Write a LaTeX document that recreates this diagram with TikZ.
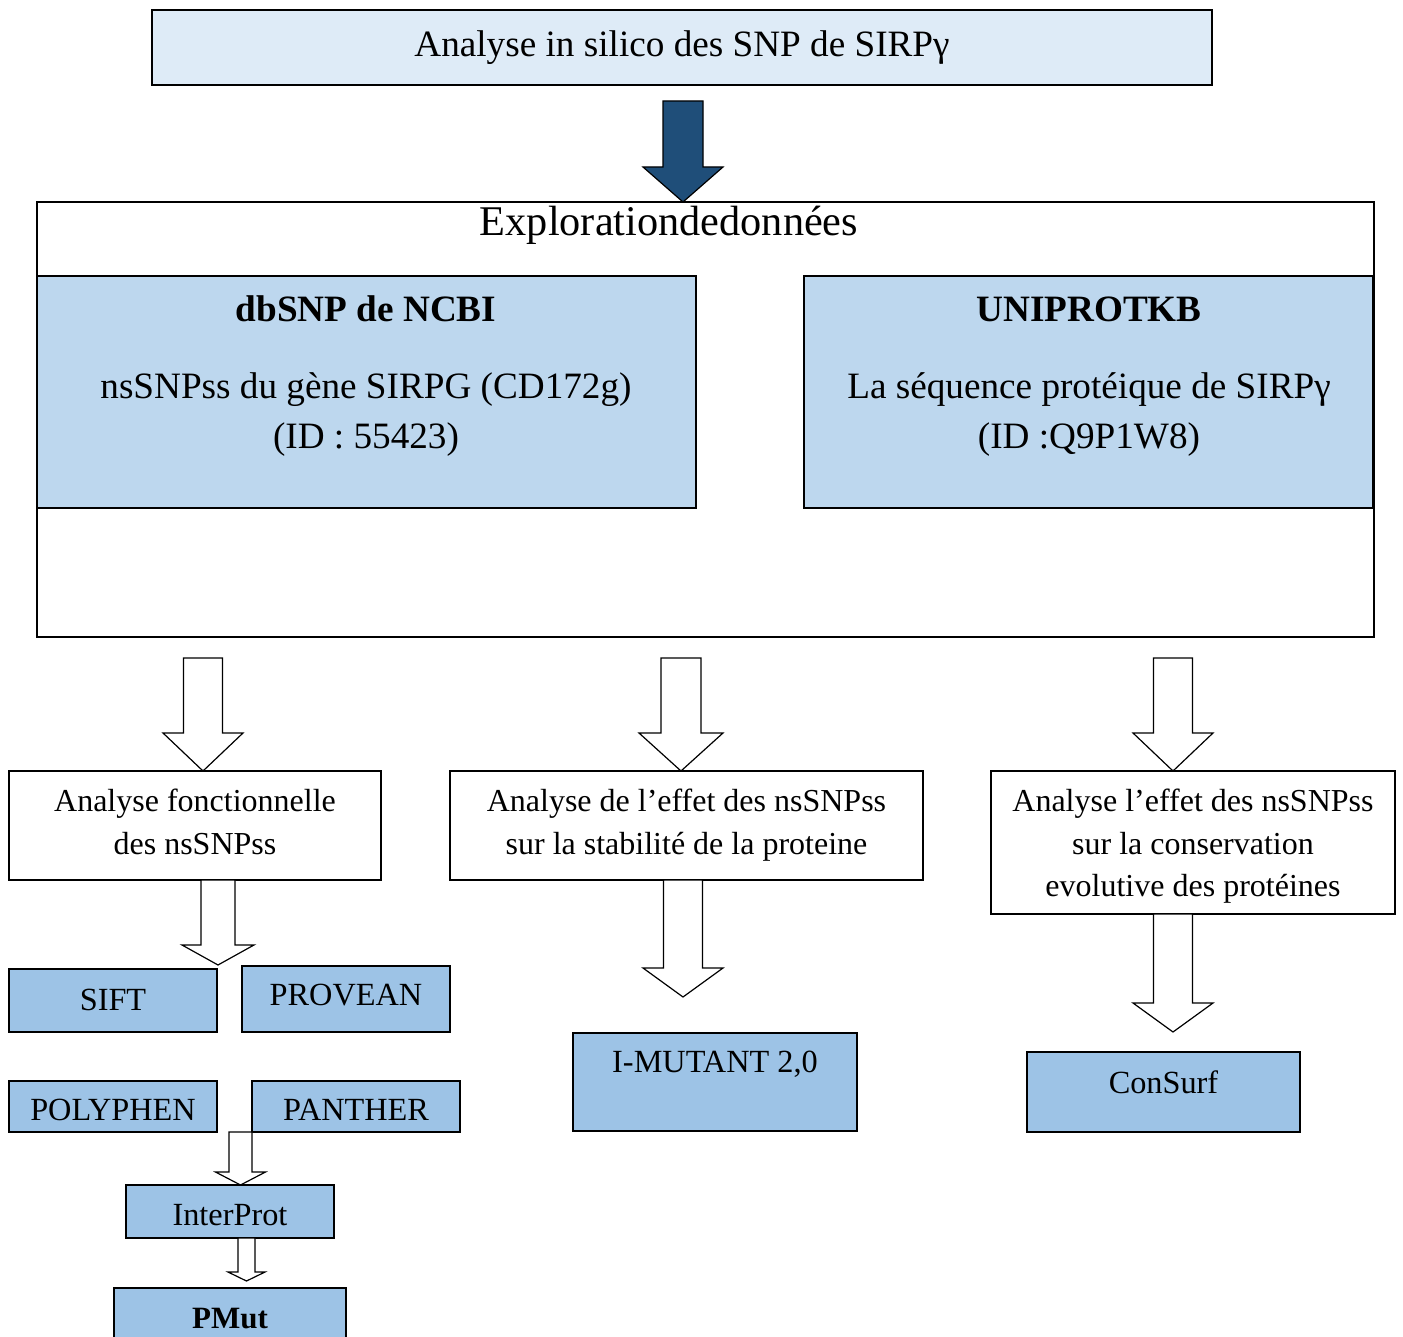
\documentclass[tikz,border=0pt]{standalone}
\usepackage{fontspec}
\setmainfont{Liberation Serif}
\usetikzlibrary{calc}
\definecolor{lightbg}{HTML}{DEEBF7}
\definecolor{midblue}{HTML}{BDD7EE}
\definecolor{toolblue}{HTML}{9DC3E6}
\definecolor{darkblue}{HTML}{1F4E79}
\tikzset{
  frame/.style={draw=black, line width=1.3pt, inner sep=0pt, outer sep=0pt},
  txt/.style={anchor=base, inner sep=0pt, outer sep=0pt},
  hollow/.style={draw=black, fill=white, line width=1.2pt, line join=miter},
  solidarrow/.style={draw=black, fill=darkblue, line width=1.2pt, line join=miter},
  fTitle/.style={font=\fontsize{37.2}{44}\selectfont},
  fExplo/.style={font=\fontsize{42.3}{50}\selectfont},
  fInner/.style={font=\fontsize{37.2}{44}\selectfont},
  fInnerB/.style={font=\fontsize{37.2}{44}\selectfont\bfseries},
  fStep/.style={font=\fontsize{32}{40}\selectfont},
  fTool/.style={font=\fontsize{32.3}{38}\selectfont},
  fToolB/.style={font=\fontsize{31}{38}\selectfont\bfseries},
}
\newcommand\rectnode[6]{\node[frame,#6,minimum width={(#4-#2)*1pt},minimum height={(#5-#3)*1pt}] (#1) at ({(#2+#4)/2},{(#3+#5)/2}) {};}
% #1 style, #2 top point, #3 tip point, #4 shaft half width, #5 head half width, #6 head length
\newcommand\blockarrow[6]{%
  \path[#1] let \p1=(#2), \p2=(#3) in
    (\x1-#4,\y1) -- (\x1+#4,\y1) -- (\x1+#4,\y2+#6) -- (\x1+#5,\y2+#6) -- (\x2,\y2)
    -- (\x1-#5,\y2+#6) -- (\x1-#4,\y2+#6) -- cycle;}
\begin{document}
\begin{tikzpicture}[x=1pt,y=-1pt]
\useasboundingbox[fill=white] (0,0) rectangle (1403,1337);

% top
\rectnode{top}{152}{10}{1212}{85}{fill=lightbg}
\node[txt,fTitle] (ttop) at (682,57) {Analyse in silico des SNP de SIRPγ};

% exploration
\rectnode{explo}{37}{202}{1374}{637}{fill=white}
\node[txt,fExplo] (texplo) at (669,236) {Explorationdedonnées};
\rectnode{dbsnp}{37}{276}{696}{508}{fill=midblue}
\node[txt,fInnerB] (tdb1) at (366,322) {dbSNP de NCBI};
\node[txt,fInner] (tdb2) at (366,399) {nsSNPss du gène SIRPG (CD172g)};
\node[txt,fInner] (tdb3) at (366,448) {(ID : 55423)};
\rectnode{uni}{804}{276}{1373}{508}{fill=midblue}
\node[txt,fInnerB] (tun1) at (1089,322) {UNIPROTKB};
\node[txt,fInner] (tun2) at (1089,399) {La séquence protéique de SIRPγ};
\node[txt,fInner] (tun3) at (1089,448) {(ID :Q9P1W8)};

% analysis steps
\rectnode{a1}{9}{771}{381}{880}{fill=white}
\node[txt,fStep] (ta11) at (195,811) {Analyse fonctionnelle};
\node[txt,fStep] (ta12) at (195,854) {des nsSNPss};
\rectnode{a2}{450}{771}{923}{880}{fill=white}
\node[txt,fStep] (ta21) at (686.5,811) {Analyse de l’effet des nsSNPss};
\node[txt,fStep] (ta22) at (686.5,854) {sur la stabilité de la proteine};
\rectnode{a3}{991}{771}{1395}{914}{fill=white}
\node[txt,fStep] (ta31) at (1193,811) {Analyse l’effet des nsSNPss};
\node[txt,fStep] (ta32) at (1193,854) {sur la conservation};
\node[txt,fStep] (ta33) at (1193,896) {evolutive des protéines};

% tools
\rectnode{sift}{9}{969}{217}{1032}{fill=toolblue}
\node[txt,fTool] (tsift) at (113,1010) {SIFT};
\rectnode{provean}{242}{966}{450}{1032}{fill=toolblue}
\node[txt,fTool] (tprovean) at (346,1005) {PROVEAN};
\rectnode{polyphen}{9}{1081}{217}{1132}{fill=toolblue}
\node[txt,fTool] (tpolyphen) at (113,1120) {POLYPHEN};
\rectnode{panther}{252}{1081}{460}{1132}{fill=toolblue}
\node[txt,fTool] (tpanther) at (356,1120) {PANTHER};
\rectnode{interprot}{126}{1185}{334}{1238}{fill=toolblue}
\node[txt,fTool] (tinterprot) at (230,1225) {InterProt};
\rectnode{pmut}{114}{1288}{346}{1360}{fill=toolblue}
\node[txt,fToolB] (tpmut) at (230,1328) {PMut};
\rectnode{imutant}{573}{1033}{857}{1131}{fill=toolblue}
\node[txt,fTool] (timutant) at (715,1072) {I-MUTANT 2,0};
\rectnode{consurf}{1027}{1052}{1300}{1132}{fill=toolblue}
\node[txt,fTool] (tconsurf) at (1163.5,1093) {ConSurf};

% arrows
\coordinate (d0) at ($(top.south)+(1,16)$);
\coordinate (d1) at ($(explo.north)+(-22.5,0)$);
\blockarrow{solidarrow}{d0}{d1 -| d0}{20pt}{40pt}{35pt}

\coordinate (l0) at (203,658);
\blockarrow{hollow}{l0}{a1.north -| l0}{19.5pt}{40pt}{38pt}
\coordinate (m0) at (681,658);
\blockarrow{hollow}{m0}{a2.north -| m0}{20pt}{42pt}{38pt}
\coordinate (r0) at (1173,658);
\blockarrow{hollow}{r0}{a3.north -| r0}{19.5pt}{40pt}{38pt}

\coordinate (s0) at ($(a1.south)+(23,0)$);
\coordinate (s1) at (218,965);
\blockarrow{hollow}{s0}{s1}{17pt}{36pt}{20pt}
\coordinate (i0) at ($(a2.south)+(-3.5,0)$);
\coordinate (i1) at (683,997);
\blockarrow{hollow}{i0}{i1}{19.5pt}{40pt}{29pt}
\coordinate (c0) at ($(a3.south)+(-20,0)$);
\coordinate (c1) at (1173,1032);
\blockarrow{hollow}{c0}{c1}{19.5pt}{40pt}{29pt}

\coordinate (p0) at (240.5,1132);
\blockarrow{hollow}{p0}{interprot.north -| p0}{11.5pt}{25pt}{13pt}
\coordinate (q0) at (246.5,1238);
\coordinate (q1) at (246.5,1281);
\blockarrow{hollow}{q0}{q1}{8.5pt}{18.5pt}{9pt}
\end{tikzpicture}
\end{document}
